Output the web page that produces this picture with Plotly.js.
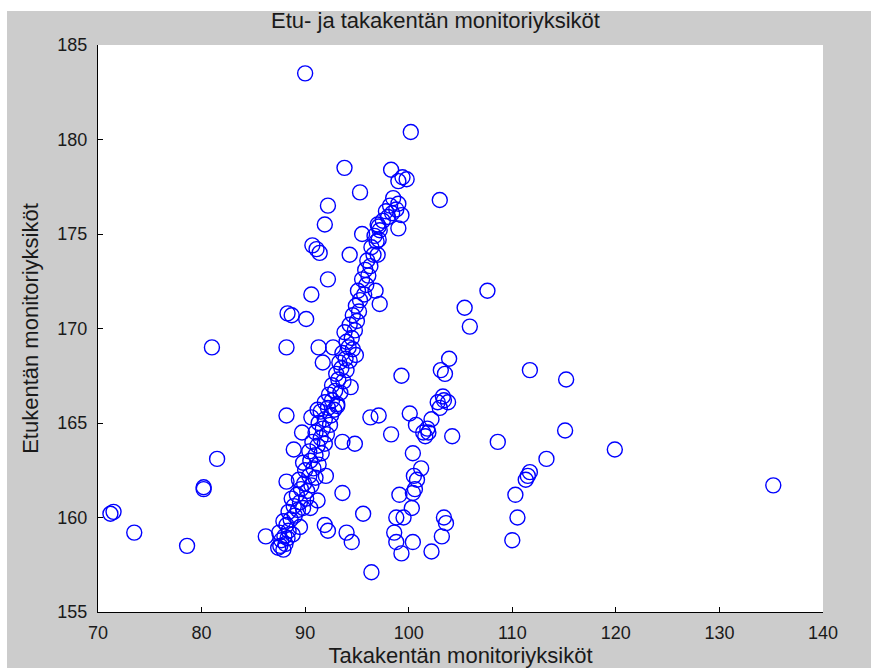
<!DOCTYPE html>
<html>
<head>
<meta charset="utf-8">
<script src="https://cdn.plot.ly/plotly-3.0.1.min.js"></script>
<style>
  html, body { margin: 0; padding: 0; background: #ffffff; }
  #chart { position: absolute; left: 0; top: 0; width: 871px; height: 668px; }
  .edge { position: absolute; background: #ffffff; pointer-events: none; }
  #edge-top { left: 0; top: 0; width: 871px; height: 11px; }
  #edge-left { left: 0; top: 0; width: 7px; height: 668px; }
</style>
</head>
<body>
<div id="chart"></div>
<div class="edge" id="edge-top"></div>
<div class="edge" id="edge-left"></div>
<script>
// Monitor units: rear field (x) against front field (y)
const takakentta = [
  // main diagonal group
  87.4, 87.6, 87.9, 88.1, 87.7, 88.0, 88.3, 87.5, 88.4, 88.8, 88.2, 87.9,
  88.6, 89.0, 88.4, 89.3, 88.9, 89.5, 88.7, 89.8, 89.2, 90.1,
  89.6, 90.2, 89.9, 90.6, 89.4, 90.4, 91.0, 90.0, 90.8, 89.8, 91.3, 90.5,
  91.0, 90.4, 91.6, 91.2, 90.7, 91.9, 91.5, 91.0, 92.1, 91.7, 91.3, 92.4,
  91.9, 92.5, 91.5, 92.2, 92.8, 91.9, 92.6, 93.1, 92.3, 92.9, 93.4, 92.6,
  93.2, 93.7, 93.0, 93.5, 94.0, 93.3, 93.9, 94.3, 93.6, 94.2, 94.6,
  94.0, 94.5, 93.8, 94.8, 94.3, 95.0, 94.6, 95.2, 94.9,
  95.3, 95.7, 95.1, 95.9, 95.5, 96.1, 95.8,
  96.3, 96.0, 96.6, 96.4, 96.9, 96.7, 97.2, 97.0,
  97.5, 98.0, 97.8, 98.4, 98.2, 98.8, 99.0, 98.5, 99.3, 99.0,
  // scattered points
  90.0, 100.2, 93.8, 98.3, 99.4, 99.0, 99.8, 95.3, 103.0, 92.2, 91.9, 95.5,
  97.1, 90.7, 91.1, 91.4, 94.3, 97.1, 97.0, 92.2, 90.6, 96.8, 97.2, 88.3,
  88.7, 90.1, 88.2, 91.3, 91.7, 94.4, 81.0, 99.3, 107.6, 105.4, 105.9, 103.9,
  103.1, 103.5, 111.7, 115.2, 103.3, 102.8, 103.8, 103.0, 103.4, 100.1, 102.2, 100.7,
  101.8, 101.4, 101.6, 101.9, 98.3, 104.2, 108.6, 115.1, 113.3, 111.7, 111.5, 111.3,
  110.3, 110.5, 110.0, 119.9, 135.2, 100.4, 101.2, 100.5, 100.8, 100.4, 100.6, 99.1,
  100.3, 98.8, 99.5, 98.6, 98.8, 99.3, 100.4, 103.4, 103.6, 103.2, 102.2, 96.4,
  95.6, 93.6, 92.0, 88.2, 90.6, 89.7, 88.9, 93.6, 94.8, 96.3, 97.1, 88.2,
  91.9, 92.2, 94.0, 94.5, 86.2, 81.5, 80.2, 80.2, 71.2, 71.5, 73.5, 78.6,
  91.2, 90.5, 89.5, 92.7, 91.2, 94.9, 93.1
];

const etukentta = [
  // main diagonal group
  158.4, 158.5, 158.3, 158.6, 158.8, 159.0, 158.9, 159.2, 159.3, 159.1, 159.6, 159.8,
  159.9, 160.1, 160.3, 160.4, 160.6, 160.8, 161.0, 160.5, 161.2, 161.0,
  161.5, 161.4, 161.8, 161.7, 162.0, 162.2, 162.1, 162.5, 162.6, 162.9, 162.8, 163.0,
  163.3, 163.5, 163.4, 163.8, 164.0, 163.9, 164.2, 164.5, 164.4, 164.7, 165.0, 164.9,
  165.2, 165.4, 165.6, 165.8, 165.7, 166.1, 166.2, 166.0, 166.5, 166.7, 166.6, 167.0,
  167.3, 167.2, 167.6, 167.9, 167.8, 168.2, 168.4, 168.3, 168.7, 169.0, 168.9,
  169.3, 169.5, 169.8, 169.9, 170.2, 170.4, 170.7, 170.9, 171.2,
  171.5, 171.8, 172.0, 172.3, 172.6, 172.8, 173.1,
  173.3, 173.6, 173.9, 174.3, 174.6, 174.9, 175.2, 175.5,
  175.7, 175.9, 176.2, 176.1, 176.5, 176.3, 176.6, 176.9, 176.0, 175.3,
  // scattered points
  183.5, 180.4, 178.5, 178.4, 178.0, 177.8, 177.9, 177.2, 176.8, 176.5, 175.5, 175.0,
  175.4, 174.4, 174.2, 174.0, 173.9, 174.7, 173.9, 172.6, 171.8, 172.0, 171.3, 170.8,
  170.7, 170.5, 169.0, 169.0, 168.2, 166.9, 169.0, 167.5, 172.0, 171.1, 170.1, 168.4,
  167.8, 167.6, 167.8, 167.3, 166.4, 166.1, 166.1, 165.8, 166.2, 165.5, 165.2, 164.9,
  164.7, 164.5, 164.3, 164.5, 164.4, 164.3, 164.0, 164.6, 163.1, 162.4, 162.2, 162.0,
  161.2, 160.0, 158.8, 163.6, 161.7, 163.4, 162.6, 162.2, 162.0, 161.3, 161.5, 161.2,
  160.5, 160.0, 160.0, 159.2, 158.7, 158.1, 158.7, 160.0, 159.7, 159.0, 158.2, 157.1,
  160.2, 161.3, 162.2, 165.4, 165.3, 164.5, 163.6, 164.0, 163.9, 165.3, 165.4, 161.9,
  159.6, 159.3, 159.2, 158.7, 159.0, 163.1, 161.6, 161.5, 160.2, 160.3, 159.2, 158.5,
  160.9, 160.5, 159.5, 169.0, 165.7, 168.6, 165.9
];

const xTicks = [70, 80, 90, 100, 110, 120, 130, 140];
const yTicks = [155, 160, 165, 170, 175, 180, 185];

const tickFont = { family: 'Liberation Sans, Arial, sans-serif', size: 18, color: '#1a1a1a' };
const titleFont = { family: 'Liberation Sans, Arial, sans-serif', size: 22, color: '#1a1a1a' };

const trace = {
  type: 'scatter',
  mode: 'markers',
  x: takakentta,
  y: etukentta,
  marker: {
    symbol: 'circle-open',
    size: 15,
    color: '#0000ff',
    line: { width: 1.4, color: '#0000ff' }
  },
  cliponaxis: false,
  hoverinfo: 'x+y'
};

const axisBase = {
  showline: true,
  linecolor: '#000000',
  linewidth: 1,
  mirror: false,
  showgrid: false,
  zeroline: false,
  ticks: 'inside',
  ticklen: 5,
  tickwidth: 1,
  tickcolor: '#000000',
  tickfont: tickFont,
  fixedrange: true
};

const layout = {
  width: 871,
  height: 668,
  paper_bgcolor: '#cccccc',
  plot_bgcolor: '#ffffff',
  margin: { l: 98, r: 48, t: 45, b: 56 },
  showlegend: false,
  title: {
    text: 'Etu- ja takakentän monitoriyksiköt',
    font: titleFont,
    x: 0.5,
    xanchor: 'center',
    y: 1,
    yanchor: 'top',
    yref: 'container',
    pad: { t: 13 }
  },
  xaxis: Object.assign({}, axisBase, {
    range: [70, 140],
    tickvals: xTicks,
    ticktext: xTicks.map(String),
    ticklabelstandoff: 4,
    title: { text: 'Takakentän monitoriyksiköt', font: titleFont, standoff: 4 }
  }),
  yaxis: Object.assign({}, axisBase, {
    range: [155, 185],
    tickvals: yTicks,
    ticktext: yTicks.map(String),
    ticklabelstandoff: 6,
    title: { text: 'Etukentän monitoriyksiköt', font: titleFont, standoff: 12 }
  })
};

Plotly.newPlot('chart', [trace], layout, { displayModeBar: false, staticPlot: true });
</script>
</body>
</html>
